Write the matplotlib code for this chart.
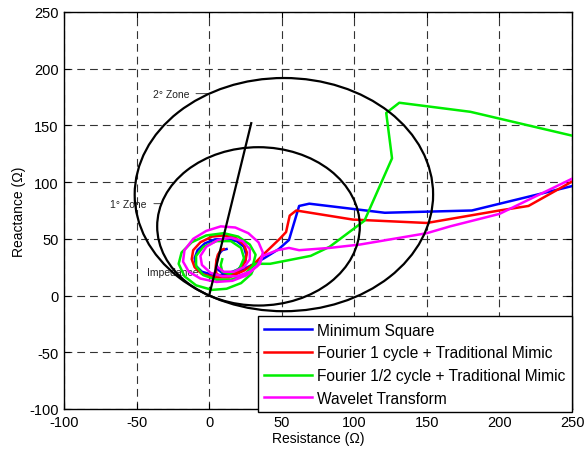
import matplotlib
matplotlib.use('Agg')
import matplotlib.pyplot as plt
from matplotlib.patches import Circle

plt.rcParams['font.family'] = ['Liberation Sans', 'DejaVu Sans']
plt.rcParams['axes.unicode_minus'] = False

# impedance trajectories (R, X) in ohms
ms_r = [250, 181, 121, 69, 62, 55, 48, 38, 28, 20, 12, 3, -5, -9, -10, -8, -3, 4, 12, 19, 24, 25.5, 24, 20, 14, 9, 6, 5, 5.5, 7, 9, 12]
ms_x = [96.5, 75, 73, 81, 79, 49, 41, 33, 26, 21, 18, 18, 21, 26, 33, 40, 46, 49.5, 50, 48, 43, 36, 29, 23, 20, 20, 23, 28, 33, 37, 40, 41]

f1_r = [250, 220, 200, 150, 99, 60, 55.5, 53, 48.6, 38, 31, 24, 14, 4, -5, -10, -12, -11, -6, 2, 10, 18, 24, 26, 25, 21, 15, 9, 5, 4.5, 5, 6, 8, 10]
f1_x = [100.5, 79, 75, 64, 67, 75, 70.5, 56, 50, 37, 28, 22, 16, 16, 19, 25, 32, 40, 47, 52, 53, 51, 45, 38, 30, 23, 18, 17, 19, 25, 31, 36, 40, 41]

fh_r = [250, 180, 131, 122, 126, 107, 83, 70, 42, 32, 29, 22, 12, 2, -9, -17, -21, -19, -12, -2, 10, 20, 28, 32, 30, 24, 15, 5, -4, -9, -9, -4, 5, 15, 22, 24, 21, 14, 9, 8, 9]
fh_x = [141, 162, 170, 161, 121, 66, 43, 35, 28, 28, 19, 11, 6, 5, 9, 17, 28, 38, 47, 53, 55, 52, 45, 36, 26, 18, 14, 14, 18, 26, 35, 43, 48, 48, 42, 33, 24, 19, 21, 27, 32]

wt_r = [250, 200, 166, 150, 104, 83, 62, 55, 47, 37, 33, 26, 16, 5, -6, -14, -18, -17, -11, -2, 8, 18, 27, 34, 37, 35, 28, 19, 9, 1, -5, -6, -2, 6, 15, 23, 28, 28, 24, 17, 10, 6]
wt_x = [103, 72, 61, 55, 45, 42, 40, 42, 40, 35, 26, 18, 13, 12, 15, 21, 30, 40, 50, 57, 61, 60, 55, 47, 38, 28, 21, 17, 17, 20, 27, 35, 43, 49, 51, 48, 41, 32, 25, 21, 21, 25]

labels = ['Minimum Square', 'Fourier 1 cycle + Traditional Mimic',
          'Fourier 1/2 cycle + Traditional Mimic', 'Wavelet Transform']
colors = ['#0000ff', '#ff0000', '#00ee00', '#ff00ff']

# mho zones: centre and radius
zone2_center = (51.5, 89)
zone2_radius = 102.8
zone1_center = (34, 61)
zone1_radius = 69.8
line_r = [0, 29]
line_x = [0, 152]

ticks = [-100, -50, 0, 50, 100, 150, 200, 250]

fig = plt.figure(figsize=(5.85, 4.56), dpi=100)
ax = fig.add_axes([0.1094, 0.1009, 0.8684, 0.8706])

for r, x, lab, c in zip([ms_r, f1_r, fh_r, wt_r], [ms_x, f1_x, fh_x, wt_x], labels, colors):
    ax.plot(r, x, color=c, lw=1.8, label=lab, zorder=3)

for cen, rad in [(zone2_center, zone2_radius), (zone1_center, zone1_radius)]:
    ax.add_patch(Circle(cen, rad, fill=False, ec='black', lw=1.6, zorder=4))
ax.plot(line_r, line_x, color='black', lw=1.6, zorder=4)

ax.annotate('2° Zone', xy=(-1, 178), xytext=(-39, 178), fontsize=7.5, color='#222222',
            va='center', arrowprops=dict(arrowstyle='-', color='#222222', lw=0.6,
                                         shrinkA=3, shrinkB=0))
ax.annotate('1° Zone', xy=(-33, 81), xytext=(-68, 81), fontsize=7.5, color='#222222',
            va='center', arrowprops=dict(arrowstyle='-', color='#222222', lw=0.6,
                                         shrinkA=3, shrinkB=0))
ax.text(-43, 21, 'Impedance', fontsize=7.5, color='#222222', va='center', zorder=2)

ax.set_xlim(-100, 250)
ax.set_ylim(-100, 250)
ax.set_xticks(ticks)
ax.set_yticks(ticks)
ax.tick_params(direction='in', length=4, labelsize=10.5, top=True, right=True, pad=4)
ax.grid(True, linestyle=(0, (7, 4.5)), color='#333333', lw=0.8)
for s in ax.spines.values():
    s.set_linewidth(1.0)

ax.set_xlabel('Resistance (Ω)', fontsize=10, labelpad=2)
ax.set_ylabel('Reactance (Ω)', fontsize=10, labelpad=2)

leg = ax.legend(loc='lower right', bbox_to_anchor=(1.0, -0.008), fontsize=11.2,
                handlelength=3.1, handletextpad=0.33, labelspacing=0.5,
                borderpad=0.4, borderaxespad=0, fancybox=False, framealpha=1,
                edgecolor='black')
leg.get_frame().set_linewidth(1.0)
leg.set_zorder(10)

fig.savefig('out.png', dpi=100)
